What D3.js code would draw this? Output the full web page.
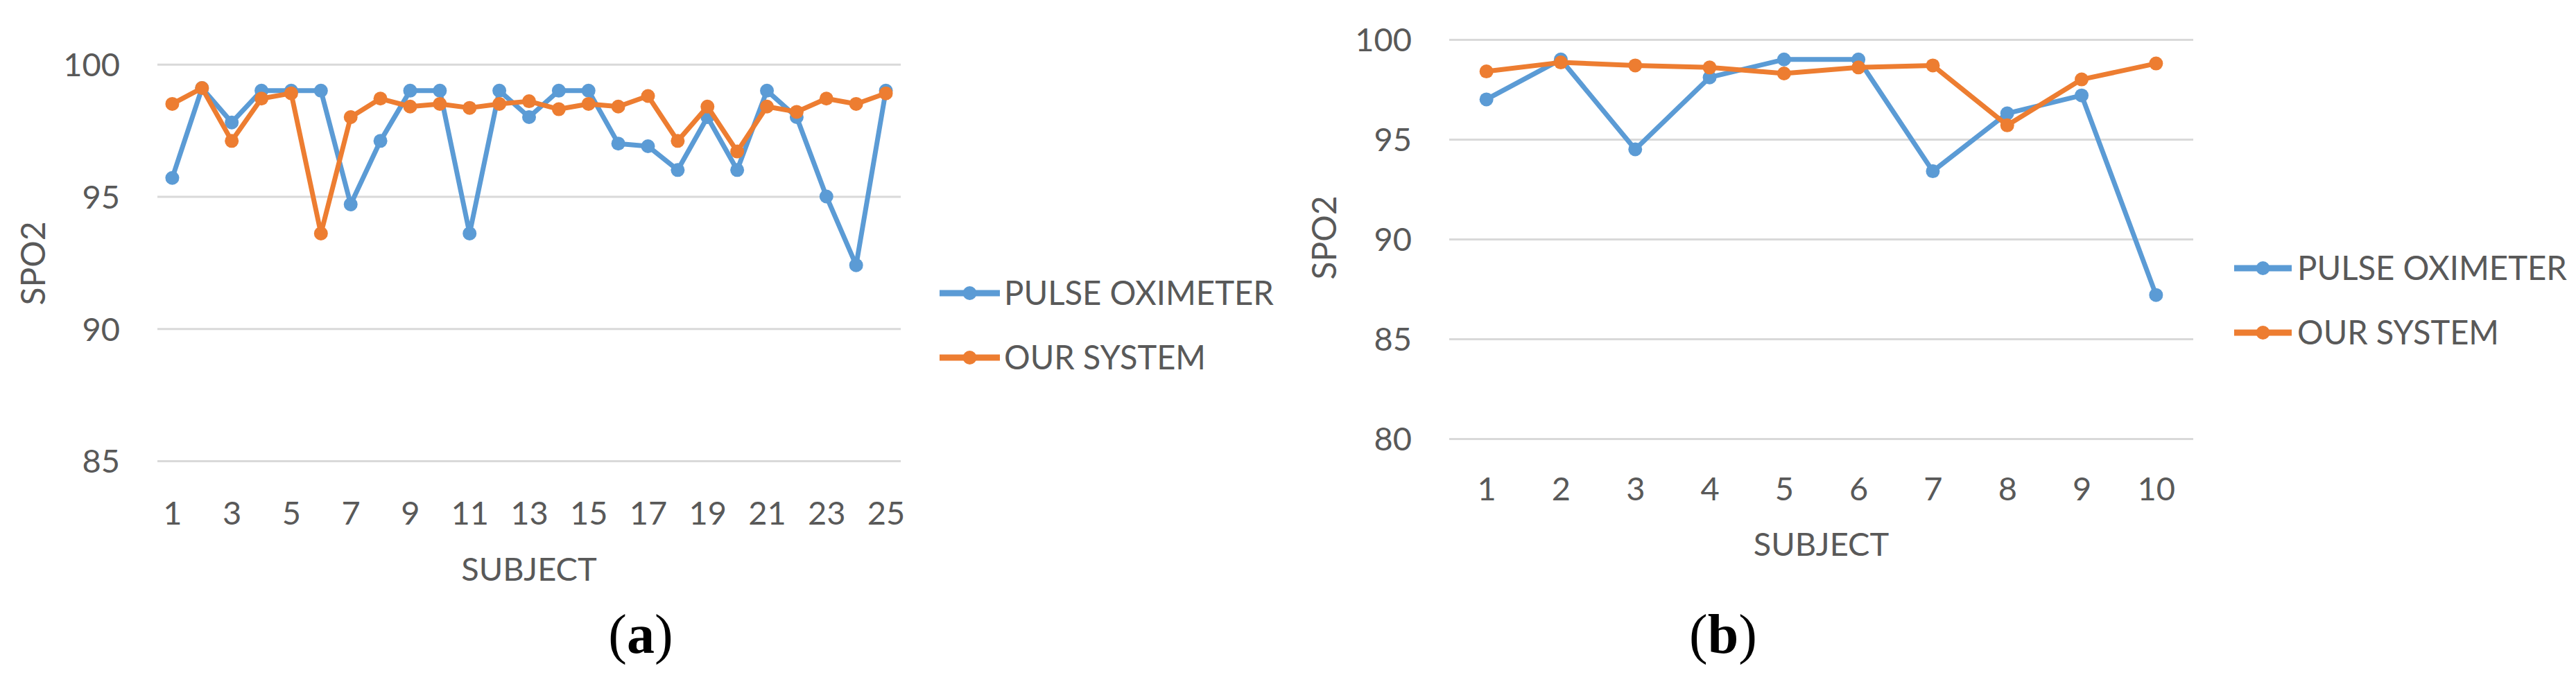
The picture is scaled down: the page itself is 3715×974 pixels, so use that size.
<!DOCTYPE html>
<html>
<head>
<meta charset="utf-8">
<script src="https://cdn.jsdelivr.net/npm/d3@7"></script>
<style>
  body { margin: 0; background: #fff; }
  svg { display: block; }
  text { font-family: Lato, "Open Sans", sans-serif; fill: #595959; }
  .grid line { stroke: #d9d9d9; stroke-width: 3; }
  text.caption { font-family: "Liberation Serif", "DejaVu Serif", serif; fill: #000; }
</style>
</head>
<body>
<svg width="3715" height="974"></svg>
<script>
// ---- data ----
var seriesNames = ["PULSE OXIMETER", "OUR SYSTEM"];
var seriesColors = ["#5b9bd5", "#ed7d31"];

var subjectsA = [1, 2, 3, 4, 5, 6, 7, 8, 9, 10, 11, 12, 13, 14, 15, 16, 17, 18, 19, 20, 21, 22, 23, 24, 25];
var pulseA  = [95.7, 99.1, 97.8, 99, 99, 99, 94.7, 97.1, 99, 99, 93.6, 99, 98, 99, 99, 97, 96.9, 96, 98, 96, 99, 98, 95, 92.4, 99];
var systemA = [98.5, 99.1, 97.1, 98.7, 98.9, 93.6, 98, 98.7, 98.4, 98.5, 98.35, 98.5, 98.6, 98.3, 98.5, 98.4, 98.8, 97.1, 98.4, 96.7, 98.4, 98.2, 98.7, 98.5, 98.9];
var yTicksA = [85, 90, 95, 100];
var xTicksA = [1, 3, 5, 7, 9, 11, 13, 15, 17, 19, 21, 23, 25];

var subjectsB = [1, 2, 3, 4, 5, 6, 7, 8, 9, 10];
var pulseB  = [97, 99, 94.5, 98.1, 99, 99, 93.4, 96.3, 97.2, 87.2];
var systemB = [98.4, 98.85, 98.7, 98.6, 98.3, 98.6, 98.7, 95.7, 98, 98.8];
var yTicksB = [80, 85, 90, 95, 100];
var xTicksB = [1, 2, 3, 4, 5, 6, 7, 8, 9, 10];

var svg = d3.select("svg");

function drawChart(cfg) {
	var g = svg.append("g");

	var x = d3.scalePoint()
		.domain(cfg.subjects)
		.range([cfg.left, cfg.right])
		.padding(0.5);

	var y = d3.scaleLinear()
		.domain([cfg.yTicks[0], cfg.yTicks[cfg.yTicks.length - 1]])
		.range([cfg.bottom, cfg.top]);

	// gridlines + y labels
	var yAxis = g.append("g")
		.attr("class", "grid")
		.attr("transform", "translate(" + cfg.left + ",0)")
		.call(d3.axisLeft(y)
			.tickValues(cfg.yTicks)
			.tickSize(-(cfg.right - cfg.left))
			.tickPadding(54));
	yAxis.select(".domain").remove();
	yAxis.selectAll("text")
		.attr("font-size", 47)
		.attr("fill", "#595959")
		.attr("font-family", "Lato")
		.attr("dy", "0.36em");

	// x labels
	var xAxis = g.append("g")
		.attr("transform", "translate(0," + cfg.bottom + ")")
		.call(d3.axisBottom(x).tickValues(cfg.xTicks).tickSize(0));
	xAxis.select(".domain").remove();
	xAxis.selectAll("text")
		.attr("font-size", 47)
		.attr("fill", "#595959")
		.attr("font-family", "Lato")
		.attr("dy", null)
		.attr("y", cfg.xLabelGap);

	// axis titles
	g.append("text")
		.attr("x", (cfg.left + cfg.right) / 2)
		.attr("y", cfg.xTitleY)
		.attr("text-anchor", "middle")
		.attr("font-size", 47)
		.text("SUBJECT");

	g.append("text")
		.attr("transform", "translate(" + cfg.yTitle[0] + "," + cfg.yTitle[1] + ") rotate(-90)")
		.attr("text-anchor", "middle")
		.attr("dy", "0.36em")
		.attr("font-size", 48)
		.text("SPO2");

	// series
	var line = d3.line()
		.x(function(d) { return x(d.s); })
		.y(function(d) { return y(d.v); });

	[cfg.pulse, cfg.system].forEach(function(vals, i) {
		var pts = vals.map(function(v, j) { return {s: cfg.subjects[j], v: v}; });
		g.append("path")
			.datum(pts)
			.attr("fill", "none")
			.attr("stroke", seriesColors[i])
			.attr("stroke-width", 7)
			.attr("stroke-linejoin", "round")
			.attr("d", line);
		g.selectAll(".pt" + i)
			.data(pts).enter()
			.append("circle")
			.attr("cx", function(d) { return x(d.s); })
			.attr("cy", function(d) { return y(d.v); })
			.attr("r", 10)
			.attr("fill", seriesColors[i]);
	});

	// legend
	var lg = g.append("g");
	seriesNames.forEach(function(name, i) {
		var ly = cfg.legend.y[i];
		lg.append("line")
			.attr("x1", cfg.legend.x1).attr("x2", cfg.legend.x2)
			.attr("y1", ly).attr("y2", ly)
			.attr("stroke", seriesColors[i])
			.attr("stroke-width", 9);
		lg.append("circle")
			.attr("cx", (cfg.legend.x1 + cfg.legend.x2) / 2)
			.attr("cy", ly)
			.attr("r", 10)
			.attr("fill", seriesColors[i]);
		lg.append("text")
			.attr("x", cfg.legend.tx)
			.attr("y", ly + 17)
			.attr("font-size", 48)
			.attr("textLength", [389, 291][i])
			.attr("lengthAdjust", "spacingAndGlyphs")
			.text(name);
	});

	// caption
	var cap = g.append("text")
		.attr("class", "caption")
		.attr("x", cfg.captionX)
		.attr("y", 942)
		.attr("text-anchor", "middle")
		.attr("font-size", 80);
	cap.append("tspan").text("(");
	cap.append("tspan").attr("font-weight", "bold").text(cfg.label);
	cap.append("tspan").text(")");
}

drawChart({
	subjects: subjectsA, pulse: pulseA, system: systemA,
	yTicks: yTicksA, xTicks: xTicksA,
	left: 227, right: 1299, top: 92.7, bottom: 665,
	xLabelGap: 92, xTitleY: 838, yTitle: [48, 380],
	legend: {x1: 1355, x2: 1442, tx: 1448, y: [423, 516]},
	captionX: 924, label: "a"
});

drawChart({
	subjects: subjectsB, pulse: pulseB, system: systemB,
	yTicks: yTicksB, xTicks: xTicksB,
	left: 2090, right: 3163, top: 57, bottom: 633,
	xLabelGap: 89, xTitleY: 802, yTitle: [1910, 343],
	legend: {x1: 3222, x2: 3305, tx: 3313, y: [387, 480]},
	captionX: 2485, label: "b"
});
</script>
</body>
</html>
